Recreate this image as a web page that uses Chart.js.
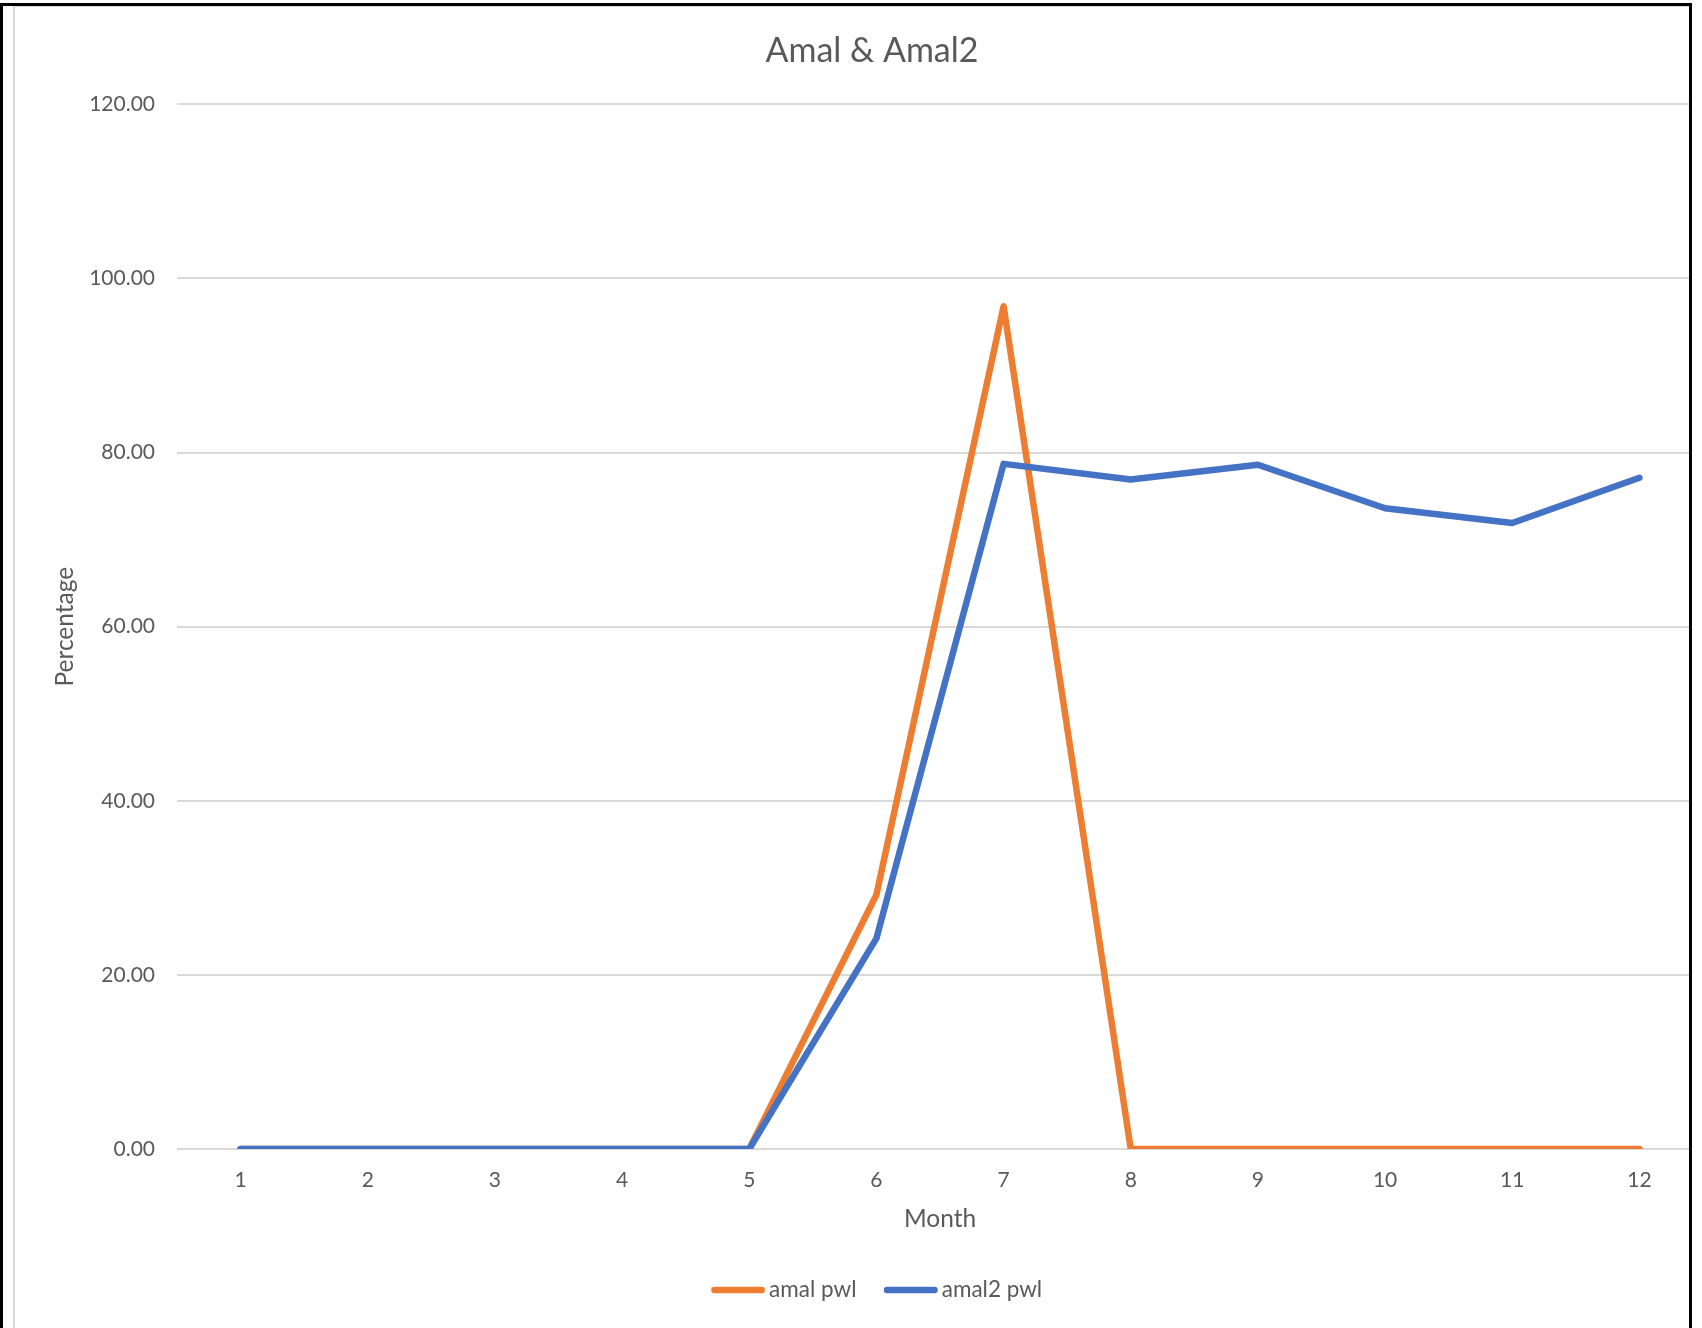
<!DOCTYPE html>
<html>
<head>
<meta charset="utf-8">
<script src="https://cdn.jsdelivr.net/npm/chart.js@4/dist/chart.umd.min.js"></script>
<style>
  html, body { margin: 0; padding: 0; background: #fff; width: 1702px; height: 1328px; overflow: hidden; }
  #frame { position: absolute; left: 0; top: 3px; width: 1692px; height: 1325px; box-sizing: border-box;
           border-left: 3px solid #000; border-top: 3px solid #000; border-right: 3px solid #000; overflow: hidden; background: #fff; }
  #chartBorder { position: absolute; left: 10px; top: 0px; width: 1740px; height: 1325px; box-sizing: border-box;
                 border-left: 2px solid #d9d9d9; border-top: 1px solid #d9d9d9; border-bottom: 2px solid #e3e3e3; }
  #wrap { position: absolute; left: 11px; top: 1px; width: 1716px; height: 1320px; }
</style>
</head>
<body>
<div id="frame">
  <div id="chartBorder"></div>
  <div id="wrap"><canvas id="c" width="1716" height="1320"></canvas></div>
</div>
<script>
const months = ['1','2','3','4','5','6','7','8','9','10','11','12'];
const amalPwl = [0, 0, 0, 0, 0, 29.2, 96.8, 0, 0, 0, 0, 0];
const amal2Pwl = [0, 0, 0, 0, 0, 24.2, 78.7, 76.9, 78.6, 73.6, 71.9, 77.1];
const yTicks = [0, 20, 40, 60, 80, 100, 120];
const chartTitle = 'Amal & Amal2';
const xTitle = 'Month';
const yTitle = 'Percentage';
const seriesNames = ['amal pwl', 'amal2 pwl'];
const seriesColors = ['#ED7D31', '#4472C4'];

const FONT = 'Lato';
const TXT = '#595959';
const LW = 6.5;

// legend swatch: a short round-capped line, drawn into a small canvas used as the legend point style
function swatch(color) {
  const c = document.createElement('canvas');
  c.width = 71; c.height = 10;
  const g = c.getContext('2d');
  g.strokeStyle = color; g.lineWidth = LW; g.lineCap = 'round';
  g.beginPath(); g.moveTo(16.75 + LW / 2, 5); g.lineTo(70.75 - LW / 2, 5); g.stroke();
  return c;
}

new Chart(document.getElementById('c'), {
  type: 'line',
  data: {
    labels: months,
    datasets: [
      { label: seriesNames[0], data: amalPwl, borderColor: seriesColors[0], backgroundColor: seriesColors[0],
        borderWidth: LW, pointRadius: 0, pointStyle: swatch(seriesColors[0]),
        borderCapStyle: 'round', borderJoinStyle: 'round', tension: 0, order: 1 },
      { label: seriesNames[1], data: amal2Pwl, borderColor: seriesColors[1], backgroundColor: seriesColors[1],
        borderWidth: LW, pointRadius: 0, pointStyle: swatch(seriesColors[1]),
        borderCapStyle: 'round', borderJoinStyle: 'round', tension: 0, order: 0 }
    ]
  },
  options: {
    responsive: false,
    animation: false,
    devicePixelRatio: 1,
    events: [],
    layout: { padding: { left: 0, right: 0, top: 0, bottom: 15.75 } },
    plugins: {
      title: {
        display: true, text: chartTitle, color: TXT,
        font: { family: FONT, size: 34, weight: 'normal', lineHeight: 1.2 },
        padding: { top: 23.5, bottom: 33 }
      },
      legend: {
        position: 'bottom',
        labels: {
          usePointStyle: true, pointStyleWidth: 56,
          color: TXT, font: { family: FONT, size: 22.5 }, padding: 18,
          sort: (a, b) => a.datasetIndex - b.datasetIndex
        }
      },
      tooltip: { enabled: false }
    },
    scales: {
      x: {
        type: 'category', offset: true,
        grid: { display: false, drawTicks: false },
        border: { display: false },
        ticks: { color: TXT, font: { family: FONT, size: 21 }, padding: 18.4, maxRotation: 0 },
        title: { display: true, text: xTitle, color: TXT, font: { family: FONT, size: 24.5 }, padding: { top: 0, bottom: 27 } },
        afterFit: s => { s.height = 111.75; }
      },
      y: {
        min: 0, max: 120,
        grid: { color: '#d9d9d9', lineWidth: 2, drawTicks: false },
        border: { display: false },
        afterBuildTicks: s => { s.ticks = yTicks.map(v => ({ value: v })); },
        ticks: { color: TXT, font: { family: FONT, size: 21 }, padding: 22, callback: v => Number(v).toFixed(2) },
        title: { display: true, text: yTitle, color: TXT, font: { family: FONT, size: 24.5 }, padding: { top: 36.3, bottom: 0 } },
        afterFit: s => { s.width = 163; }
      },
      yRight: {
        type: 'linear', position: 'right', display: true,
        grid: { display: false, drawTicks: false }, border: { display: false },
        ticks: { display: false },
        afterFit: s => { s.width = 27; }
      }
    }
  }
});
</script>
</body>
</html>
